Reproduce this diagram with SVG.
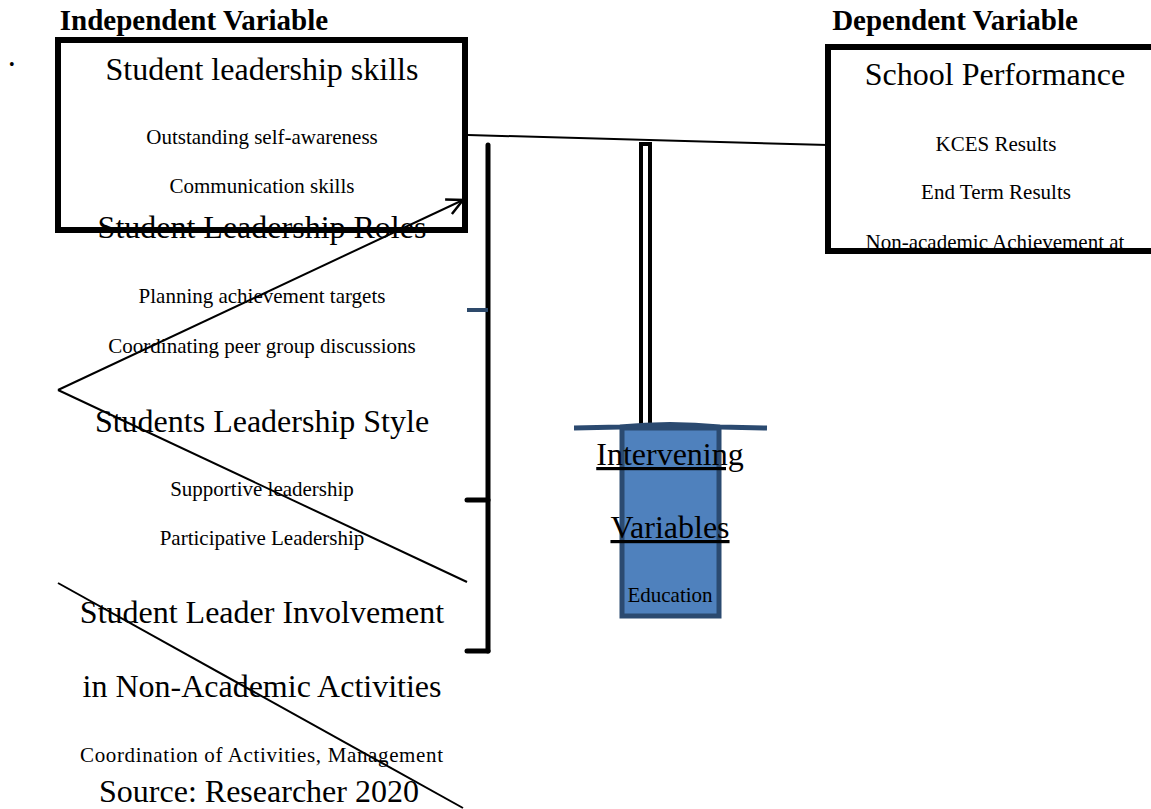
<svg xmlns="http://www.w3.org/2000/svg" width="1151" height="809" viewBox="0 0 1151 809">
<style>
text{font-family:"Liberation Serif","Times New Roman",serif;fill:#000}
.h{font-size:29px;font-weight:bold;text-anchor:middle}
.big{font-size:32px;text-anchor:middle}
.sm{font-size:21px;text-anchor:middle}
.ln{stroke:#000;stroke-width:2;fill:none}
.br{stroke:#000;stroke-width:5;fill:none;stroke-linecap:round}
</style>
<defs>
<marker id="arr" viewBox="0 0 20 20" refX="18" refY="10" markerWidth="20" markerHeight="20" markerUnits="userSpaceOnUse" orient="auto">
<path d="M2,2 L18,10 L2,18" fill="none" stroke="#000" stroke-width="2.5"/>
</marker>
<clipPath id="rc"><rect x="830" y="50" width="330" height="198"/></clipPath>
</defs>
<rect width="1151" height="809" fill="#fff"/>
<text class="h" x="194" y="30">Independent Variable</text>
<text class="h" x="955" y="30">Dependent Variable</text>
<text x="9" y="70" style="font-size:16px">•</text>

<g id="left-texts">
<text class="big" x="262" y="238">Student Leadership Roles</text>
<text class="sm" x="262" y="303">Planning achievement targets</text>
<text class="sm" x="262" y="353">Coordinating peer group discussions</text>
<text class="big" x="262" y="432">Students Leadership Style</text>
<text class="sm" x="262" y="496">Supportive leadership</text>
<text class="sm" x="262" y="545">Participative Leadership</text>
<text class="big" x="262" y="623">Student Leader Involvement</text>
<text class="big" x="262" y="697">in Non-Academic Activities</text>
<text x="80" y="762" style="font-size:21px" textLength="363" lengthAdjust="spacing">Coordination of Activities, Management</text>
<text class="big" x="259" y="802">Source: Researcher 2020</text>
</g>

<g id="node-skills">
<text class="big" x="262" y="80">Student leadership skills</text>
<text class="sm" x="262" y="144">Outstanding self-awareness</text>
<text class="sm" x="262" y="193">Communication skills</text>
<rect x="58" y="40" width="407" height="190" fill="none" stroke="#000" stroke-width="6"/>
</g>

<g id="node-performance">
<text class="big" x="995" y="85">School Performance</text>
<text class="sm" x="996" y="151">KCES Results</text>
<text class="sm" x="996" y="199">End Term Results</text>
<text class="sm" x="995" y="249" clip-path="url(#rc)">Non-academic Achievement at</text>
<rect x="828" y="47" width="340" height="204" fill="none" stroke="#000" stroke-width="6"/>
</g>

<g id="connectors">
<line class="ln" x1="468" y1="135" x2="828" y2="145"/>
<polyline class="ln" points="58,390 463,200" marker-end="url(#arr)"/>
<line class="ln" x1="58" y1="390" x2="467" y2="582"/>
<line class="ln" x1="58" y1="583" x2="463" y2="808"/>
<line class="br" x1="488" y1="145" x2="488" y2="651"/>
<line x1="467" y1="310" x2="488" y2="310" stroke="#2e4a6b" stroke-width="4"/>
<line class="br" x1="467" y1="500" x2="488" y2="500"/>
<line class="br" x1="467" y1="651" x2="488" y2="651"/>
<rect x="641" y="144" width="9" height="282" fill="#fff" stroke="#000" stroke-width="4"/>
</g>

<g id="node-intervening">
<rect x="622" y="428" width="97" height="188" fill="#4f81bd" stroke="#2b4a70" stroke-width="5"/>
<path d="M574,428 L620,427 Q670,422 720,427 L767,428" fill="none" stroke="#2b4a70" stroke-width="5"/>
<text class="big" x="670" y="465" text-decoration="underline">Intervening</text>
<text class="big" x="670" y="538" text-decoration="underline">Variables</text>
<text class="sm" x="670" y="602">Education</text>
</g>
</svg>
